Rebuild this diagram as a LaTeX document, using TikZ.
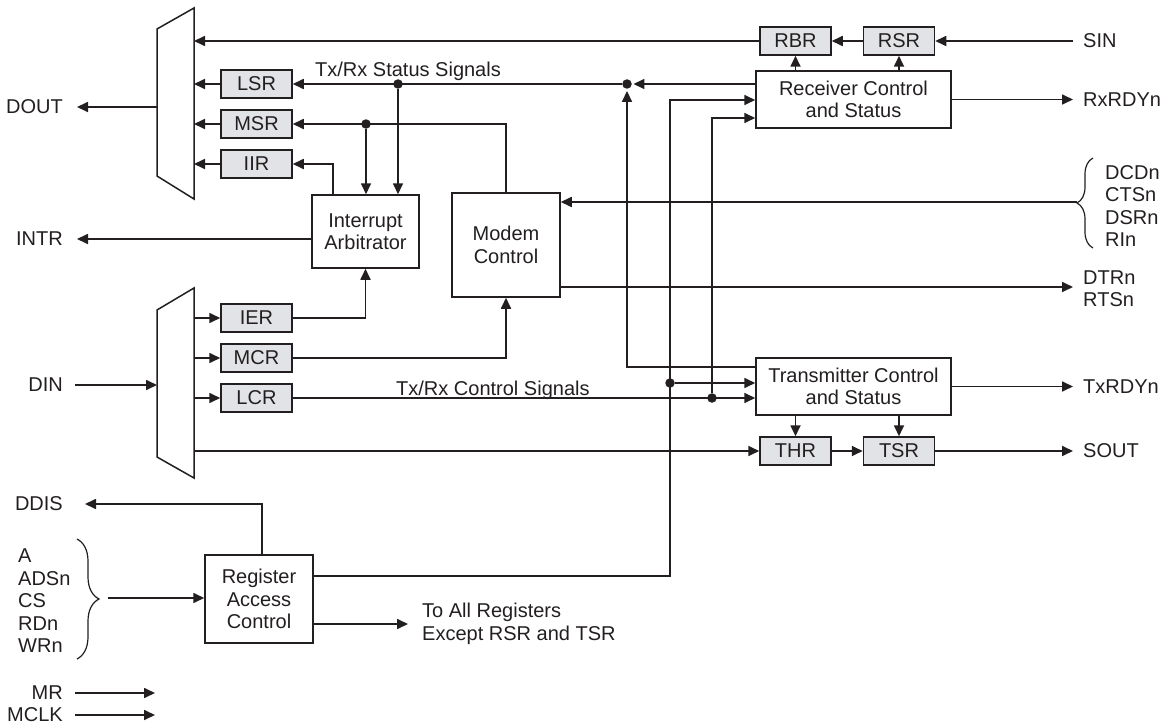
\documentclass[tikz,border=0pt]{standalone}
\usepackage{fontspec}
\setmainfont{Liberation Sans}
\usetikzlibrary{arrows.meta,decorations.pathreplacing,calc}
\definecolor{ink}{RGB}{35,31,32}
\definecolor{regfill}{RGB}{226,227,230}
\begin{document}
\begin{tikzpicture}[x=1pt,y=-1pt,
  every node/.style={font=\fontsize{20}{22.5}\selectfont, text=ink},
  line/.style={draw=ink, line width=1.7pt},
  arr/.style={line, -{Triangle[length=11pt,width=10pt]}},
  reg/.style={draw=ink, line width=1.5pt, fill=regfill, minimum width=71pt, minimum height=28pt, inner sep=0pt},
  blk/.style={draw=ink, line width=1.5pt, fill=white, inner sep=0pt, align=center},
  jdot/.style={circle, fill=ink, inner sep=0pt, minimum size=9.5pt},
  lbl/.style={inner sep=0pt},
  brc/.style={draw=ink, line width=1.2pt, decorate}]
\useasboundingbox (0,0) rectangle (1165,725);

% muxes
\draw[line, line width=1.5pt] (157,29) -- (194,8) -- (194,199) -- (157,176) -- cycle;
\draw[line, line width=1.5pt] (157,310) -- (194,288) -- (194,478) -- (157,457) -- cycle;
\coordinate (mA) at (194,0);
\coordinate (mAl) at (157,0);
\coordinate (mB) at (194,0);
\coordinate (mBl) at (157,0);

% registers
\node[reg] (lsr) at (256.5,84) {LSR};
\node[reg] (msr) at (256.5,124) {MSR};
\node[reg] (iir) at (256.5,164) {IIR};
\node[reg] (ier) at (256.5,318) {IER};
\node[reg] (mcr) at (256.5,358) {MCR};
\node[reg] (lcr) at (256.5,398) {LCR};
\node[reg] (rbr) at (795.5,41) {RBR};
\node[reg] (rsr) at (899,41) {RSR};
\node[reg] (thr) at (795.5,451) {THR};
\node[reg] (tsr) at (899,451) {TSR};

% blocks
\node[blk, minimum width=107pt, minimum height=73pt] (arb) at (365.5,231.5) {Interrupt\\Arbitrator};
\node[blk, minimum width=108pt, minimum height=104pt] (modem) at (506,245) {Modem\\Control};
\node[blk, minimum width=195pt, minimum height=57pt] (rx) at (853.5,99.5) {Receiver Control\\and Status};
\node[blk, minimum width=195pt, minimum height=57pt] (tx) at (853.5,386.5) {Transmitter Control\\and Status};
\node[blk, minimum width=108pt, minimum height=88pt] (rac) at (259,599) {Register\\Access\\Control};

% labels
\node[lbl, anchor=east] (dout) at (63,107) {DOUT};
\node[lbl, anchor=east] (intr) at (63,239) {INTR};
\node[lbl, anchor=east] (din) at (63,385) {DIN};
\node[lbl, anchor=east] (ddis) at (63,504) {DDIS};
\node[lbl, anchor=west, align=left] (addr) at (18,601) {A\\ADSn\\CS\\RDn\\WRn};
\node[lbl, anchor=east] (mr) at (63,693) {MR};
\node[lbl, anchor=east] (mclk) at (63,715) {MCLK};
\node[lbl, anchor=west] (sin) at (1083,41) {SIN};
\node[lbl, anchor=west] (rxrdy) at (1083,99.5) {RxRDYn};
\node[lbl, anchor=west, align=left] (mods) at (1105,206) {DCDn\\CTSn\\DSRn\\RIn};
\node[lbl, anchor=west, align=left] (dtr) at (1083,288.5) {DTRn\\RTSn};
\node[lbl, anchor=west] (txrdy) at (1083,386.5) {TxRDYn};
\node[lbl, anchor=west] (sout) at (1083,451) {SOUT};
\node[lbl, anchor=west, align=left] (toall) at (422,624) {To All Registers\\Except RSR and TSR};
\node[lbl, anchor=base west] (tss) at (315,77) {Tx/Rx Status Signals};
\node[lbl, anchor=base west] (tcs) at (396,395) {Tx/Rx Control Signals};

% junction dots
\node[jdot] (d1) at (627,84) {};
\node[jdot] (d2) at (398,84) {};
\node[jdot] (d3) at (366,124) {};
\node[jdot] (d4) at (712,398) {};
\node[jdot] (d5) at (670,383) {};

% helper coordinates
\coordinate (ry1) at (0,100);
\coordinate (ry2) at (0,118);
\coordinate (ty) at (0,367);
\coordinate (y576) at (0,576);
\coordinate (y624) at (0,624);
\coordinate (y287) at (0,287);
\coordinate (aI) at (333,0);
\coordinate (xd) at (262,0);
\coordinate (bR) at (1077,202);
\coordinate (bL) at (108,598);

% top mux outputs
\draw[arr] (rbr.west) -- (rbr.west -| mA);
\draw[arr] (lsr.west) -- (lsr.west -| mA);
\draw[arr] (msr.west) -- (msr.west -| mA);
\draw[arr] (iir.west) -- (iir.west -| mA);
\draw[arr] (mAl |- dout) -- ([xshift=14pt]dout.east);

% receiver side
\draw[arr] ([xshift=-10pt]sin.west) -- (rsr.east);
\draw[arr] (rsr.west) -- (rbr.east);
\draw[arr] (rx.north -| rbr) -- (rbr.south);
\draw[arr] (rx.north -| rsr) -- (rsr.south);
\draw[arr] (rx.east) -- ([xshift=-10pt]rxrdy.west);
\draw[arr, shorten >=1.5pt] (rx.west |- d1) -- (d1);
\draw[arr] (d1) -- (lsr.east);
\draw[arr] (d2) -- (d2 |- arb.north);
\draw[arr] (modem.north) |- (msr.east);
\draw[arr] (d3) -- (d3 |- arb.north);
\draw[arr] (aI |- arb.north) |- (iir.east);
\draw[arr] (arb.west |- intr) -- ([xshift=14pt]intr.east);

% modem
\draw[brc, decoration={brace, amplitude=16pt}] (1093,248) -- (1093,158);
\draw[arr] (bR) -- (modem.east |- bR);
\draw[arr, shorten >=10pt] (modem.east |- y287) -- (dtr.west |- y287);

% bottom mux inputs
\draw[arr] ([xshift=12pt]din.east) -- (mBl |- din);
\draw[arr] (mB |- ier) -- (ier.west);
\draw[arr] (mB |- mcr) -- (mcr.west);
\draw[arr] (mB |- lcr) -- (lcr.west);
\draw[arr] (mB |- thr) -- (thr.west);
\draw[arr] (ier.east) -| (arb.south);
\draw[arr] (mcr.east) -| (modem.south);
\draw[arr] (lcr.east) -- (tx.west |- lcr);
\draw[arr] (d4) |- (rx.west |- ry2);

% register access control
\draw[arr] (rac.east |- y576) -| (d5 |- ry1) -- (rx.west |- ry1);
\draw[arr] (d5) -- (tx.west |- d5);
\draw[arr, shorten >=2pt] (tx.west |- ty) -| (d1);
\draw[arr] (rac.north -| xd) |- ([xshift=22pt]ddis.east);
\draw[brc, decoration={brace, amplitude=22pt}] (77,539) -- (77,659);
\draw[arr] (bL) -- (rac.west |- bL);
\draw[arr, shorten >=14pt] (rac.east |- y624) -- (toall.west |- y624);

% transmitter side
\draw[arr] (tx.east) -- ([xshift=-10pt]txrdy.west);
\draw[arr] (tx.south -| thr) -- (thr.north);
\draw[arr] (tx.south -| tsr) -- (tsr.north);
\draw[arr] (thr.east) -- (tsr.west);
\draw[arr] (tsr.east) -- ([xshift=-10pt]sout.west);

% MR / MCLK
\draw[arr] ([xshift=12pt]mr.east) -- ([xshift=92pt]mr.east);
\draw[arr] ([xshift=12pt]mclk.east) -- ([xshift=92pt]mclk.east);
\end{tikzpicture}
\end{document}
